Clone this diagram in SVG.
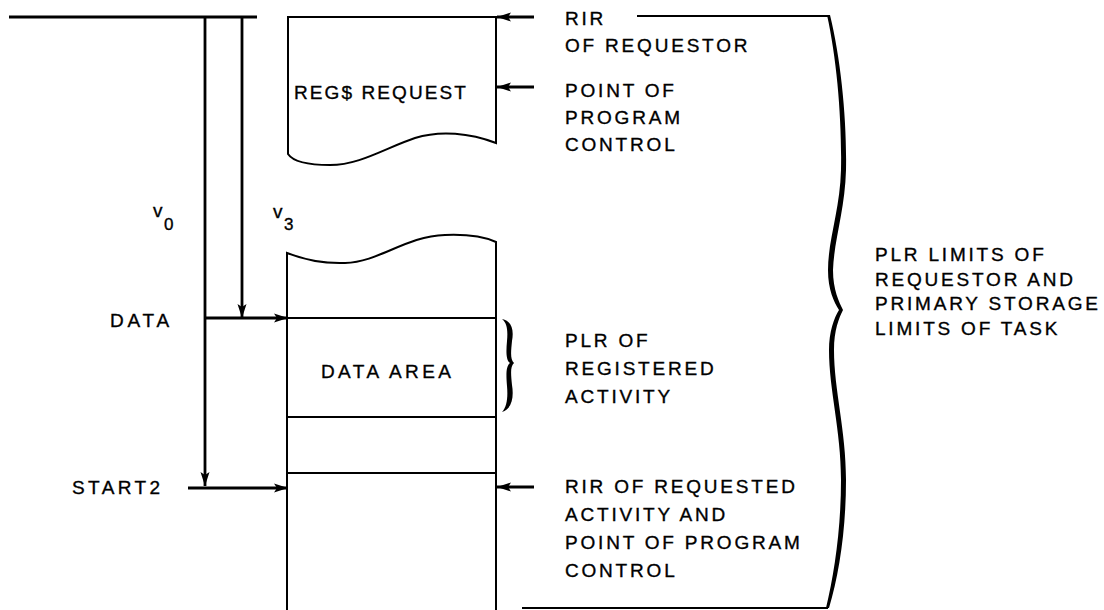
<svg xmlns="http://www.w3.org/2000/svg" width="1104" height="610" viewBox="0 0 1104 610">
<style>
.t{font-family:"Liberation Sans",Arial,sans-serif;font-size:19px;letter-spacing:2.8px;fill:#000;stroke:#000;stroke-width:0.35}
.ln{stroke:#000;stroke-width:2;fill:none}
.th{stroke:#000;stroke-width:2.8;fill:none}
.box{stroke:#000;stroke-width:2;fill:#fff}
</style>
<defs>
<marker id="ah" markerUnits="userSpaceOnUse" markerWidth="16" markerHeight="12" refX="14" refY="6" orient="auto">
<path d="M0,1.5 L14,6 L0,10.5 L3,6 Z" fill="#000"/>
</marker>
</defs>
<rect width="1104" height="610" fill="#fff"/>
<g id="top-box">
<path class="box" d="M288,17 H496 V143 C470,133 440,130 415,138 C385,148 360,165 330,165 C305,165 292,160 288,154 Z"/>
<text class="t" x="294" y="99" style="letter-spacing:2.1px">REG$ REQUEST</text>
</g>
<g id="task-box">
<path class="ln" d="M287,612 V253 C300,258 320,264 345,263 C380,262 405,236 445,235 C470,234 485,237 496,242 V612"/>
<line class="ln" x1="287" y1="318" x2="496" y2="318"/>
<line class="ln" x1="287" y1="417" x2="496" y2="417"/>
<line class="ln" x1="287" y1="473" x2="496" y2="473"/>
<text class="t" x="321" y="378" style="letter-spacing:3.4px">DATA AREA</text>
</g>
<g id="connectors">
<line class="th" x1="9" y1="17" x2="257" y2="17"/>
<line class="th" x1="205" y1="17" x2="205" y2="486" marker-end="url(#ah)"/>
<line class="th" x1="242" y1="17" x2="242" y2="318" marker-end="url(#ah)"/>
<line class="th" x1="205" y1="318" x2="288" y2="318" marker-end="url(#ah)"/>
<line class="th" x1="188" y1="488" x2="288" y2="488" marker-end="url(#ah)"/>
<line class="th" x1="534" y1="17" x2="497" y2="17" marker-end="url(#ah)"/>
<line class="th" x1="534" y1="87" x2="497" y2="87" marker-end="url(#ah)"/>
<line class="th" x1="534" y1="487" x2="497" y2="487" marker-end="url(#ah)"/>
<line class="ln" x1="637" y1="16" x2="829" y2="16"/>
<line class="ln" x1="522" y1="608" x2="828" y2="608"/>
</g>
<g id="labels-left">
<text class="t" x="153" y="217" style="letter-spacing:0">v<tspan x="164" y="230" font-size="17">0</tspan></text>
<text class="t" x="273" y="218" style="letter-spacing:0">v<tspan x="284" y="230" font-size="17">3</tspan></text>
<text class="t" x="110" y="327" style="letter-spacing:3.8px">DATA</text>
<text class="t" x="72" y="494" style="letter-spacing:3.4px">START2</text>
</g>
<g id="labels-right">
<text class="t" x="565" y="25">RIR</text>
<text class="t" x="565" y="52">OF REQUESTOR</text>
<text class="t" x="565" y="97">POINT OF</text>
<text class="t" x="565" y="124">PROGRAM</text>
<text class="t" x="565" y="151">CONTROL</text>
<text class="t" x="565" y="347">PLR OF</text>
<text class="t" x="565" y="375">REGISTERED</text>
<text class="t" x="565" y="403">ACTIVITY</text>
<text class="t" x="565" y="493">RIR OF REQUESTED</text>
<text class="t" x="565" y="521">ACTIVITY AND</text>
<text class="t" x="565" y="549">POINT OF PROGRAM</text>
<text class="t" x="565" y="577">CONTROL</text>
</g>
<g id="brace-small">
<path fill="#000" d="M502,319 C512,321 514,330 512,341 C511,352 510,359 514,363 C510,367 511,374 512,385 C514,397 512,409 502,412 C507,407 508,397 507,386 C506,374 506,366 510,363 C506,360 506,352 507,341 C508,330 507,323 502,319 Z"/>
</g>
<g id="brace-big">
<path fill="#000" d="M830,15 C841,60 847,120 846,170 C845,210 834,240 833,270 C833,290 839,302 843,310 C839,318 834,330 834,350 C834,390 846,430 846,480 C846,530 839,575 829,608 L826,608 C834,575 841,530 841,480 C841,430 829,390 829,350 C829,332 834,318 839,310 C834,302 828,290 828,270 C828,240 840,210 841,170 C842,120 837,60 827,15 Z"/>
<text class="t" x="875" y="261">PLR LIMITS OF</text>
<text class="t" x="875" y="286">REQUESTOR AND</text>
<text class="t" x="875" y="310">PRIMARY STORAGE</text>
<text class="t" x="875" y="335">LIMITS OF TASK</text>
</g>
</svg>
